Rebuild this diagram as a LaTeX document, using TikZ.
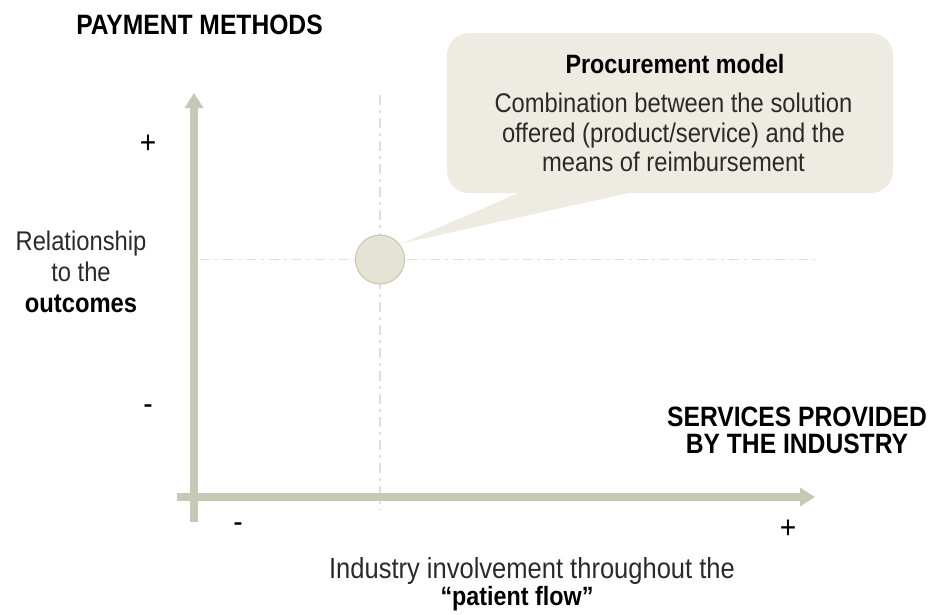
\documentclass[tikz,border=0pt]{standalone}
\usepackage{fontspec}
\setmainfont{Liberation Sans}[FakeStretch=0.88]
\usetikzlibrary{arrows.meta,calc}

\definecolor{axisgray}{HTML}{C8C8B6}
\definecolor{guidegray}{HTML}{E2E1CF}
\definecolor{bubblefill}{HTML}{EEECE2}
\definecolor{dotfill}{HTML}{E5E3D3}
\definecolor{dotline}{HTML}{C6C5B1}
\definecolor{lighttext}{HTML}{2A2A2A}

\tikzset{
  axis/.style={draw=axisgray, line width=8.5pt,
    -{Triangle[length=15pt,width=18pt]}},
  guide/.style={draw=guidegray, line width=1.8pt,
    dash pattern=on 10pt off 5pt on 3pt off 5pt},
  txt/.style={inner sep=0pt, text=lighttext,
    font=\fontsize{27}{29.5}\selectfont},
  boldtxt/.style={inner sep=0pt, text=black,
    font=\fontsize{26.5}{27}\selectfont\bfseries},
  capstxt/.style={inner sep=0pt, text=black,
    font=\fontsize{28}{27}\selectfont\bfseries},
  sign/.style={inner sep=0pt, text=black,
    font=\fontsize{32}{32}\selectfont},
  bubble/.style={fill=bubblefill, rounded corners=22pt, inner sep=0pt},
  marker/.style={circle, fill=dotfill, draw=dotline, line width=1pt,
    minimum size=49pt, inner sep=0pt}
}

\begin{document}
\begin{tikzpicture}[x=1pt,y=-1pt]
  \useasboundingbox (0,0) rectangle (929,614);

  % guide lines through the marked position
  \coordinate (hgL) at (200,259.5);
  \coordinate (hgR) at (815,259.5);
  \coordinate (vgT) at (380,95);
  \coordinate (vgB) at (380,510);
  \draw[guide] (hgL) -- (hgR);
  \draw[guide] (vgT) -- (vgB);

  % axes
  \coordinate (yBase) at (194,522);
  \coordinate (yTip)  at (194,93);
  \coordinate (xBase) at (177,497);
  \coordinate (xTip)  at (815,497);
  \draw[axis] (yBase) -- (yTip);
  \draw[axis] (xBase) -- (xTip);

  % callout bubble
  \node[bubble, minimum width=446pt, minimum height=160pt] (bubble) at (670,113) {};
  \coordinate (pbL) at ($(bubble.south west)+(76,-2)$);
  \coordinate (pbR) at ($(bubble.south west)+(190,-2)$);
  \node[marker] (dot) at (380,259.5) {};
  \coordinate (ptip) at (403,243);
  \fill[bubblefill] (pbL) -- (ptip) -- (pbR) -- cycle;

  \node[boldtxt, anchor=base] (ctitle) at (675,73) {Procurement model};
  \node[txt, align=center, anchor=north] (cbody) at (673.5,93)
    {Combination between the solution\\offered (product/service) and the\\means of reimbursement};

  % axis titles
  \node[capstxt, anchor=base] (ytitle) at (199.5,34) {PAYMENT METHODS};
  \node[capstxt, align=center, anchor=north] (xtitle) at (797,407)
    {SERVICES PROVIDED\\BY THE INDUSTRY};

  % axis descriptions
  \node[txt, align=center, anchor=north, font=\fontsize{27}{31}\selectfont]
    (ylabel) at (81,230.5)
    {Relationship\\to the\\\textbf{\color{black}outcomes}};
  \node[txt, anchor=base, font=\fontsize{29}{31}\selectfont] (xlabel1) at (532,578)
    {Industry involvement throughout the};
  \node[boldtxt, anchor=base] (xlabel2) at (517,605) {“patient flow”};

  % scale signs
  \node[sign] (yplus) at (148,144) {+};
  \node[sign] (yminus) at (148,410) {-};
  \node[sign] (xminus) at (238,528) {-};
  \node[sign] (xplus) at (788,529) {+};
\end{tikzpicture}
\end{document}
